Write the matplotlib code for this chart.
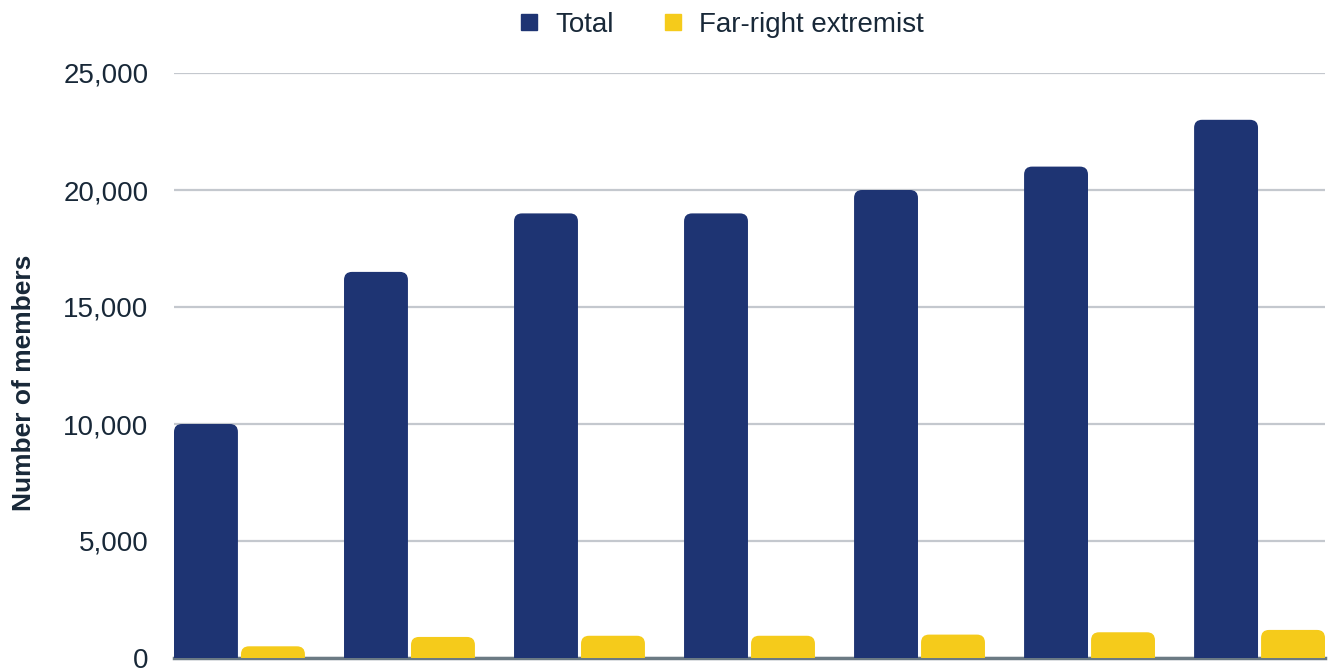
import numpy as np
import matplotlib.pyplot as plt
from matplotlib.patches import FancyBboxPatch
from matplotlib.lines import Line2D
from matplotlib.ticker import FuncFormatter

# values (7 groups, no category labels shown)
total = [10000, 16500, 19000, 19000, 20000, 21000, 23000]
far_right = [500, 900, 950, 950, 1000, 1100, 1200]
series_names = ['Total', 'Far-right extremist']

navy = '#1e3473'
yellow = '#f5cb1b'
txt = '#182838'

plt.rcParams['font.family'] = ['Liberation Sans', 'DejaVu Sans']

fig = plt.figure(figsize=(13.29, 6.68), dpi=100)
ax = fig.add_axes([174/1329, 10/668, (1325-174)/1329, 585/668])

x = np.arange(len(total))
w = 0.376
off = 0.197
b1 = ax.bar(x - off, total, width=w, color=navy, zorder=3)
b2 = ax.bar(x + off, far_right, width=w, color=yellow, zorder=3)

# swap plain rectangles for ones with rounded tops
r = 0.047
asp = 342 / r
for bars, col in [(b1, navy), (b2, yellow)]:
    for rect in bars:
        x0, y0 = rect.get_x(), rect.get_y()
        bw, bh = rect.get_width(), rect.get_height()
        rect.remove()
        p = FancyBboxPatch((x0, y0 - 500), bw, bh + 500,
                           boxstyle=f'round,pad=0,rounding_size={r}',
                           mutation_aspect=asp, facecolor=col,
                           edgecolor='none', zorder=3)
        ax.add_patch(p)

ax.set_xlim(-0.385, len(total) - 1 + 0.385)
ax.set_ylim(0, 25000)
ax.set_yticks(np.arange(0, 25001, 5000))
ax.yaxis.set_major_formatter(FuncFormatter(lambda v, p: f'{int(v):,}'))
ax.set_xticks([])
ax.tick_params(axis='y', length=0, pad=18.5, labelsize=20, labelcolor=txt)
ax.grid(axis='y', color='#c4c8ce', lw=1.6, zorder=0)
ax.axhline(0, color='#6b7a84', lw=2.5, zorder=2, clip_on=False)
for s in ax.spines.values():
    s.set_visible(False)

ax.set_ylabel('Number of members', fontsize=19, fontweight='bold',
              color=txt)
ax.yaxis.set_label_coords(-138/1151, 0.47)

handles = [Line2D([], [], ls='none', marker='s', markersize=11,
                  markerfacecolor=c, markeredgecolor=c)
           for c in (navy, yellow)]
fig.legend(handles, series_names, loc='center', ncol=2, frameon=False,
           bbox_to_anchor=(721/1329, 1 - 25/668), fontsize=20,
           labelcolor=txt, handlelength=0.8, handletextpad=0.55,
           columnspacing=1.7, borderpad=0)

fig.savefig('out.png', dpi=100)
